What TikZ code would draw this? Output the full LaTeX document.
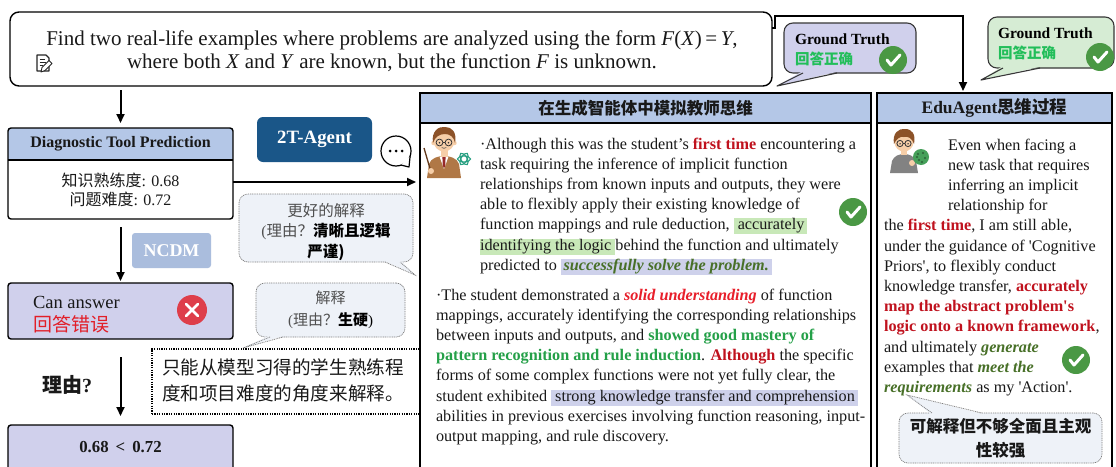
\documentclass[tikz,border=0pt]{standalone}
\usepackage{fontspec}
\setmainfont{Liberation Serif}
\newfontfamily\cjk{Noto Sans CJK SC}
\usetikzlibrary{arrows.meta,calc,backgrounds}

\definecolor{hdrblue}{RGB}{180,199,231}
\definecolor{lav}{RGB}{208,208,236}
\definecolor{ncdmblue}{RGB}{170,189,221}
\definecolor{agentblue}{RGB}{26,86,136}
\definecolor{bubfill}{RGB}{238,242,248}
\definecolor{bubline}{RGB}{125,125,125}
\definecolor{bubtxt}{RGB}{80,80,80}
\definecolor{gtgreen}{RGB}{214,236,212}
\definecolor{gtline}{RGB}{55,55,55}
\definecolor{okgreen}{RGB}{74,152,68}
\definecolor{badred}{RGB}{222,62,74}
\definecolor{txt}{RGB}{25,25,25}
\definecolor{redA}{RGB}{192,18,30}
\definecolor{redB}{RGB}{232,30,42}
\definecolor{grnA}{RGB}{36,160,72}
\definecolor{grnB}{RGB}{72,112,40}
\definecolor{cnred}{RGB}{226,30,40}
\definecolor{cngreen}{RGB}{34,190,90}
\definecolor{hlgreen}{RGB}{200,232,184}
\definecolor{hllav}{RGB}{206,209,235}
\definecolor{skin}{RGB}{246,206,168}
\definecolor{hair}{RGB}{140,82,40}
\definecolor{suit}{RGB}{176,120,70}
\definecolor{tiered}{RGB}{150,40,40}
\definecolor{knot}{RGB}{40,160,130}
\definecolor{hoodie}{RGB}{130,130,130}
\definecolor{ballgreen}{RGB}{70,160,90}

% inline highlighters
\newcommand{\hlg}[1]{{\setlength{\fboxsep}{0pt}\colorbox{hlgreen}{\rule[-4.5pt]{0pt}{16pt}#1}}}
\newcommand{\hll}[1]{{\setlength{\fboxsep}{0pt}\colorbox{hllav}{\rule[-4.5pt]{0pt}{16pt}#1}}}
\newcommand{\sq}{\textquotesingle}

\tikzset{
  okmark/.pic={
    \fill[okgreen] (0,0) circle (14);
    \draw[white, line width=3pt, line cap=round, line join=round] (-6,0) -- (-2,5) -- (7,-5);
  },
  badmark/.pic={
    \fill[badred] (0,0) circle (15);
    \draw[white, line width=2.6pt, line cap=round] (-6,-6) -- (6,6) (-6,6) -- (6,-6);
  },
  teacher/.pic={
    \fill[suit] (-17,37) -- (-15,23) .. controls (-13,17) and (-6,15) .. (0,15) .. controls (6,15) and (13,17) .. (15,23) -- (17,37) -- cycle;
    \fill[white] (-4.5,15.5) -- (4.5,15.5) -- (0,28) -- cycle;
    \fill[tiered] (-1.6,16) -- (1.6,16) -- (1.2,25) -- (0,27) -- (-1.2,25) -- cycle;
    \fill[skin] (-3.5,8) rectangle (3.5,15.5);
    \fill[skin] (0,0) circle (10.5);
    \fill[skin] (-10.5,2) circle (2.2) (10.5,2) circle (2.2);
    \fill[hair] (-11,2) .. controls (-13,-10) and (-5,-15) .. (1,-14) .. controls (8,-14) and (13,-9) .. (11,2) .. controls (10,-4) and (6,-7) .. (1,-7) .. controls (-5,-7) and (-9,-4) .. (-11,2) -- cycle;
    \draw[line width=0.8pt, black!80] (-4.5,1.5) circle (3.4) (4.5,1.5) circle (3.4) (-1.1,1.5) -- (1.1,1.5);
    \fill[black!80] (-4.5,1.8) circle (0.9) (4.5,1.8) circle (0.9);
    \draw[line width=0.6pt, black!70] (-2.2,6.5) .. controls (-1,7.6) and (1,7.6) .. (2.2,6.5);
    \draw[line width=1.3pt, hair!70!black] (-13,31) -- (-20,7);
    \fill[skin] (-13,30) circle (3);
    \foreach \a in {0,60,120}{\draw[knot, line width=1.1pt, rotate around={\a:(20,18)}] (20,18) ellipse (6.5 and 3);}
  },
  student/.pic={
    \fill[hoodie] (-14,31) -- (-12,19) .. controls (-10,14) and (-5,12) .. (0,12) .. controls (5,12) and (10,14) .. (12,19) -- (14,31) -- cycle;
    \fill[skin] (-3,7) rectangle (3,13);
    \fill[skin] (0,0) circle (9.5);
    \fill[hair] (-10,2) .. controls (-12,-9) and (-5,-14) .. (1,-13) .. controls (8,-13) and (12,-8) .. (10,2) .. controls (8,-4) and (4,-6) .. (0,-5) .. controls (-4,-6) and (-8,-3) .. (-10,2) -- cycle;
    \draw[line width=0.8pt, black!80] (-4,1.5) circle (3.1) (4,1.5) circle (3.1) (-0.9,1.5) -- (0.9,1.5);
    \fill[black!80] (-4,1.8) circle (0.8) (4,1.8) circle (0.8);
    \fill[skin] (8,21) circle (3);
    \fill[ballgreen] (17,15) circle (8);
    \foreach \p in {(14,12),(19,11),(21,16),(15,18),(18,20),(13,15)}{\fill[ballgreen!60!black] \p circle (1.2);}
  }
}

\begin{document}
\begin{tikzpicture}[x=1pt,y=-1pt,
  every node/.style={inner sep=0pt, outer sep=0pt},
  arr/.style={line width=2pt, -{Triangle[length=9pt,width=8pt]}},
  panel/.style={draw, line width=1.4pt},
  box/.style={draw, line width=1.4pt, rounded corners=3pt},
  para/.style={align=left, text=txt, font=\fontsize{16.2}{20.2}\selectfont},
  bubble/.style={draw=bubline, fill=bubfill, line width=0.7pt, dash pattern=on 1pt off 0.8pt, rounded corners=9pt},
  tailline/.style={draw=bubline, line width=0.7pt, dash pattern=on 1pt off 0.8pt},
  gtbubble/.style={draw=gtline, line width=1.1pt, rounded corners=9pt},
  gttext/.style={align=left, font=\fontsize{15.5}{20}\selectfont},
]
\useasboundingbox (0,0) rectangle (1116,466);
\begin{scope}[on background layer]
  \fill[white] (0,0) rectangle (1116,466);
\end{scope}

% ---------- question ----------
\node[draw, line width=1.4pt, rounded corners=9pt, minimum width=762pt, minimum height=74pt] (q) at (391,49) {};
\node[align=center, font=\fontsize{21}{23}\selectfont, text=txt] (qt) at (392,51) {Find two real-life examples where problems are analyzed using the form \textit{F}(\textit{X})\,=\,\textit{Y},\\ where both \textit{X} and \textit{Y} are known, but the function \textit{F} is unknown.};
% note-and-pencil icon
\draw[line width=1.1pt, black!85, line join=round] (37,55) -- (46,55) -- (49,58) -- (49,71) -- (37,71) -- cycle;
\draw[line width=0.8pt, black!85] (39.5,59) -- (45,59) (39.5,62) -- (46,62) (39.5,65) -- (43,65);
\filldraw[fill=white, draw=black!85, line width=0.9pt, line join=round] (41,72) -- (42,67.5) -- (49,60.5) -- (52,63.5) -- (45,70.5) -- cycle;

% ---------- left column ----------
\node[box, minimum width=225pt, minimum height=91pt] (diag) at (120.5,173.5) {};
\begin{scope}[on background layer]
  \fill[hdrblue] (diag.north west) rectangle ([yshift=-32pt]diag.north east);
\end{scope}
\draw[line width=1.4pt] ([yshift=-32pt]diag.north west) -- ([yshift=-32pt]diag.north east);
\node[font=\bfseries\fontsize{16}{18}\selectfont, text=txt] (dht) at ([yshift=-16pt]diag.north) {Diagnostic Tool Prediction};
\node[align=center, font=\fontsize{16}{19.5}\selectfont, text=txt] (dbt) at (120.5,190) {{\cjk 知识熟练度}: 0.68\\{\cjk 问题难度}: 0.72};

\node[fill=ncdmblue, rounded corners=3pt, minimum width=79pt, minimum height=35pt, text=white, font=\bfseries\fontsize{18}{20}\selectfont] (ncdm) at (171.5,250.5) {NCDM};

\node[box, fill=lav, minimum width=225pt, minimum height=56pt, anchor=north west] (can) at (8,283) {};
\node[anchor=west, align=left, font=\fontsize{18.5}{23}\selectfont, text=txt] (cant) at (33,314.5) {Can answer\\{\cjk\fontsize{19}{23}\selectfont\color{cnred}回答错误}};
\pic at (192,310) {badmark};

\node[font=\bfseries\fontsize{20}{22}\selectfont, text=txt] (why) at (67,385) {{\cjk 理由}?};

\node[box, fill=lav, minimum width=225pt, minimum height=50pt, anchor=north west] (res) at (8,425) {};
\node[font=\bfseries\fontsize{16.8}{18}\selectfont, text=txt] (rest) at (120.5,447) {0.68 \,<\, 0.72};

\draw[arr, shorten <=4pt, shorten >=5pt] (q.south -| diag.north) -- (diag.north);
\draw[arr, shorten <=8pt, shorten >=2pt] (diag.south) -- (can.north);
\draw[arr, shorten <=18pt, shorten >=9pt] (can.south) -- (res.north);

% ---------- 2T-Agent and comments ----------
\node[fill=agentblue, rounded corners=6pt, minimum width=115pt, minimum height=45pt, text=white, font=\bfseries\fontsize{18.8}{20}\selectfont] (agent) at (314.5,139.5) {2T-Agent};

\node[circle, draw, line width=1.2pt, fill=white, minimum size=30pt] (dots) at (396,151) {};
\fill[white] (dots.-20) -- ([shift={(13,16)}]dots.center) -- (dots.-70) -- cycle;
\draw[line width=1.2pt, line join=round] (dots.-20) -- ([shift={(13,16)}]dots.center) -- (dots.-70);
\fill[black] (390,151) circle (1.5) (396,151) circle (1.5) (402,151) circle (1.5);

\node[bubble, minimum width=174pt, minimum height=68pt] (b1) at (326,228) {};
\fill[bubfill] ($(b1.south east)+(-29,-1.2)$) -- ($(b1.south east)+(2,13)$) -- ($(b1.south east)+(-12,-1.2)$) -- cycle;
\draw[tailline] ($(b1.south east)+(-28,0)$) -- ($(b1.south east)+(2,13)$) -- ($(b1.south east)+(-13,0)$);
\node[align=center, font=\fontsize{15.5}{20.5}\selectfont, text=bubtxt] (b1t) at (326,232) {{\cjk 更好的解释}\\({\cjk 理由？\textcolor{black}{\bfseries 清晰且逻辑}}\\{\cjk\bfseries\color{black}严谨)}};

\node[bubble, minimum width=149pt, minimum height=54pt] (b2) at (330.5,310) {};
\fill[bubfill] ($(b2.south west)+(13,-1.2)$) -- ($(b2.south west)+(-13,11)$) -- ($(b2.south west)+(28,-1.2)$) -- cycle;
\draw[tailline] ($(b2.south west)+(14,0)$) -- ($(b2.south west)+(-13,11)$) -- ($(b2.south west)+(27,0)$);
\node[align=center, font=\fontsize{15}{22}\selectfont, text=bubtxt] (b2t) at (330.5,310) {{\cjk 解释}\\({\cjk 理由？\textcolor{black}{\bfseries 生硬}}\textcolor{black}{)}};

\node[draw, line width=1.2pt, dash pattern=on 1.2pt off 1.2pt, minimum width=268pt, minimum height=65pt] (lim) at (286,381.5) {};
\node[align=left, font=\cjk\fontsize{18.6}{26}\selectfont, text=txt] (limt) at (283,380.5) {只能从模型习得的学生熟练程\\度和项目难度的角度来解释。};

% ---------- middle panel ----------
\node[panel, minimum width=451pt, minimum height=380pt, anchor=north west] (mid) at (420,93) {};
\begin{scope}[on background layer]
  \fill[hdrblue] (mid.north west) rectangle ([yshift=-30pt]mid.north east);
\end{scope}
\draw[line width=1.4pt] ([yshift=-30pt]mid.north west) -- ([yshift=-30pt]mid.north east);
\node[font=\cjk\bfseries\fontsize{16.5}{18}\selectfont, text=txt] (midh) at ([yshift=-15pt]mid.north) {在生成智能体中模拟教师思维};

\coordinate (dA) at ([yshift=-8.5pt]diag.east);
\draw[arr, shorten >=4pt] (dA) -- (dA -| mid.west);

\pic at (444,141) {teacher};
\node[para, anchor=north west] (m1) at (480,135) {\strut·Although this was the student’s \textcolor{redA}{\textbf{first time}} encountering a\\
task requiring the inference of implicit function\\
relationships from known inputs and outputs, they were\\
able to flexibly apply their existing knowledge of\\
function mappings and rule deduction, \hlg{ accurately\,}\\
\hlg{identifying the logic }behind the function and ultimately\\
predicted to \hll{\,\textcolor{grnB}{\textbf{\textit{successfully solve the problem.}}}\,}};
\pic at (853,212) {okmark};

\node[para, anchor=north west] (m2) at (436,286) {\strut·The student demonstrated a \textcolor{redB}{\textbf{\textit{solid understanding}}} of function\\
mappings, accurately identifying the corresponding relationships\\
between inputs and outputs, and \textcolor{grnA}{\textbf{showed good mastery of}}\\
\textcolor{grnA}{\textbf{pattern recognition and rule induction}}. \textcolor{redA}{\textbf{Although}} the specific\\
forms of some complex functions were not yet fully clear, the\\
student exhibited \hll{ strong knowledge transfer and comprehension\,}\\
abilities in previous exercises involving function reasoning, input-\\
output mapping, and rule discovery.};

% ---------- right panel ----------
\node[panel, minimum width=235pt, minimum height=380pt, anchor=north west] (rp) at (877,93) {};
\begin{scope}[on background layer]
  \fill[hdrblue] (rp.north west) rectangle ([yshift=-30pt]rp.north east);
\end{scope}
\draw[line width=1.4pt] ([yshift=-30pt]rp.north west) -- ([yshift=-30pt]rp.north east);
\node[font=\bfseries\fontsize{17.5}{19}\selectfont, text=txt] (rph) at ([yshift=-15pt]rp.north) {EduAgent{\cjk 思维过程}};

\pic at (904,142) {student};
\node[para, anchor=north west] (r1) at (884,136) {\strut\hspace*{64pt}Even when facing a\\
\hspace*{64pt}new task that requires\\
\hspace*{64pt}inferring an implicit\\
\hspace*{64pt}relationship for\\
the \textcolor{redA}{\textbf{first time}}, I am still able,\\
under the guidance of \sq Cognitive\\
Priors\sq, to flexibly conduct\\
knowledge transfer, \textcolor{redA}{\textbf{accurately}}\\
\textcolor{redA}{\textbf{map the abstract problem\sq s}}\\
\textcolor{redA}{\textbf{logic onto a known framework}},\\
and ultimately \textcolor{grnB}{\textbf{\textit{generate}}}\\
examples that \textcolor{grnB}{\textbf{\textit{meet the}}}\\
\textcolor{grnB}{\textbf{\textit{requirements}}} as my \sq Action\sq.};
\pic at (1076,360) {okmark};

\node[bubble, minimum width=203pt, minimum height=50pt] (b3) at (1000.5,438) {};
\fill[bubfill] ($(b3.north west)+(32,1.2)$) -- ($(b3.north west)+(8,-18)$) -- ($(b3.north west)+(84,1.2)$) -- cycle;
\draw[tailline] ($(b3.north west)+(33,0)$) -- ($(b3.north west)+(8,-18)$) -- ($(b3.north west)+(83,0)$);
\node[align=center, font=\cjk\bfseries\fontsize{16.5}{24}\selectfont, text=txt] (b3t) at (1000.5,438.5) {可解释但不够全面且主观\\性较强};

% ---------- ground truth callouts ----------
\draw[arr, line join=miter, shorten >=2pt] ([yshift=21pt]q.east) -| ++(3,-12) -| ([xshift=86pt]rp.north west);

\node[gtbubble, fill=lav, minimum width=132pt, minimum height=50pt] (g1) at (850,48) {};
\fill[lav] ($(g1.south west)+(18,-1.5)$) -- ($(g1.south west)+(-7,13)$) -- ($(g1.south west)+(54,-1.5)$) -- cycle;
\draw[draw=gtline, line width=1.1pt, line join=round] ($(g1.south west)+(19,0)$) -- ($(g1.south west)+(-7,13)$) -- ($(g1.south west)+(53,0)$);
\node[gttext, anchor=west] (g1t) at (795,50) {\textbf{Ground Truth}\\{\cjk\bfseries\fontsize{14.5}{20}\selectfont\color{cngreen}回答正确}};
\pic at (893,60) {okmark};

\node[gtbubble, fill=gtgreen, minimum width=126pt, minimum height=51pt] (g2) at (1051,42.5) {};
\fill[gtgreen] ($(g2.south west)+(14,-1.5)$) -- ($(g2.south west)+(-7,12)$) -- ($(g2.south west)+(53,-1.5)$) -- cycle;
\draw[draw=gtline, line width=1.1pt, line join=round] ($(g2.south west)+(15,0)$) -- ($(g2.south west)+(-7,12)$) -- ($(g2.south west)+(52,0)$);
\node[gttext, anchor=west] (g2t) at (998,43.5) {\textbf{Ground Truth}\\{\cjk\bfseries\fontsize{14.5}{20}\selectfont\color{cngreen}回答正确}};
\pic at (1100,57) {okmark};
\end{tikzpicture}
\end{document}
